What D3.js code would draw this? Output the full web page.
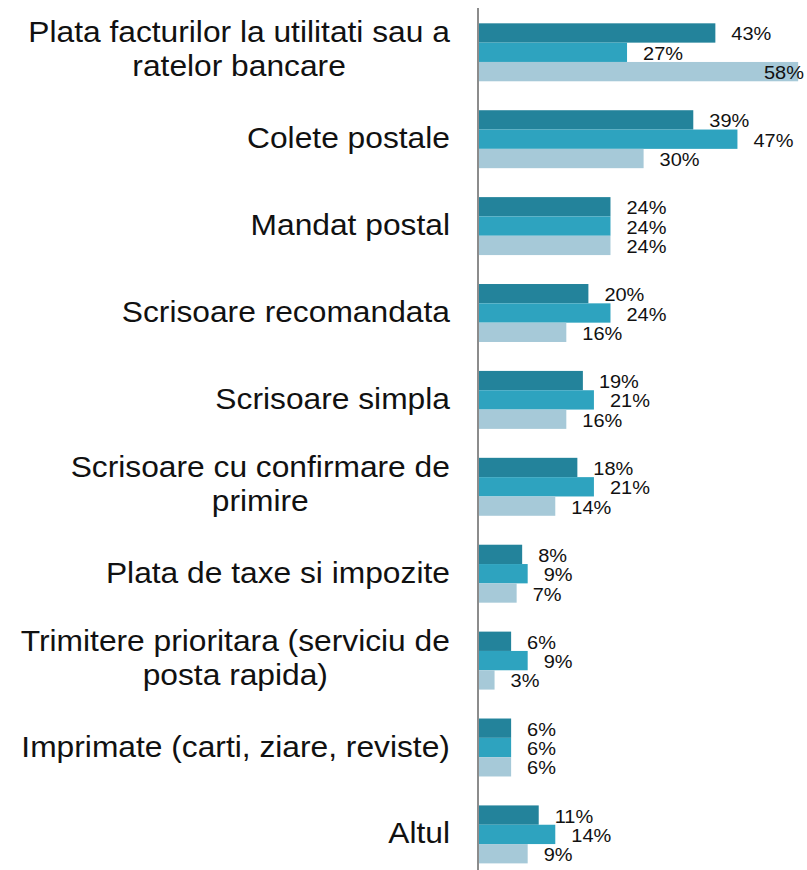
<!DOCTYPE html>
<html>
<head>
<meta charset="utf-8">
<script src="https://cdn.jsdelivr.net/npm/d3@7"></script>
<style>
  html, body { margin: 0; padding: 0; background: #fff; }
  svg { display: block; }
</style>
</head>
<body>
<div id="chart"></div>
<script>
// ---- data ----
const categories = [
  ["Plata facturilor la utilitati sau a", "ratelor bancare"],
  ["Colete postale"],
  ["Mandat postal"],
  ["Scrisoare recomandata"],
  ["Scrisoare simpla"],
  ["Scrisoare cu confirmare de", "primire"],
  ["Plata de taxe si impozite"],
  ["Trimitere prioritara (serviciu de", "posta rapida)"],
  ["Imprimate (carti, ziare, reviste)"],
  ["Altul"]
];
const series1 = [43, 39, 24, 20, 19, 18, 8, 6, 6, 11];
const series2 = [27, 47, 24, 24, 21, 21, 9, 9, 6, 14];
const series3 = [58, 30, 24, 16, 16, 14, 7, 3, 6, 9];
const seriesNames = ["s1", "s2", "s3"];
const seriesColors = ["#23839B", "#2EA3BF", "#A6C9D8"];

// ---- layout ----
const W = 807, H = 870;
const axisX = 478;
const svg = d3.select("#chart").append("svg").attr("width", W).attr("height", H);

const idx = categories.map((d, i) => i);
const y = d3.scaleBand().domain(idx).range([8.85, 877.85]).paddingInner(0.333).paddingOuter(0.1665);
const ySub = d3.scaleBand().domain(seriesNames).range([0, y.bandwidth()]);
const x = d3.scaleLinear().domain([0, 100]).range([axisX, axisX + 552]);

const allSeries = [series1, series2, series3];
const fmt = d => d + "%";
const FONT = "'Liberation Sans', Arial, sans-serif";

// bars
idx.forEach(i => {
  const g = svg.append("g").attr("transform", `translate(0,${y(i)})`);
  allSeries.forEach((s, k) => {
    g.append("rect")
      .attr("x", x(0))
      .attr("y", ySub(seriesNames[k]))
      .attr("width", x(s[i]) - x(0))
      .attr("height", ySub.bandwidth())
      .attr("fill", seriesColors[k]);
  });
});

// axis line
svg.append("line")
  .attr("x1", axisX).attr("x2", axisX)
  .attr("y1", 8).attr("y2", H)
  .attr("stroke", "#8c8c8c").attr("stroke-width", 2);

// value labels
const valSX = 1.08;
idx.forEach(i => {
  allSeries.forEach((s, k) => {
    const cy = y(i) + ySub(seriesNames[k]) + ySub.bandwidth() / 2;
    const g = svg.append("g");
    const t = g.append("text")
      .attr("font-family", FONT)
      .attr("font-size", 18.5)
      .attr("fill", "#111")
      .text(fmt(s[i]));
    const w = t.node().getComputedTextLength() * valSX;
    let lx = x(s[i]) + 16;
    if (lx + w > W - 3) lx = W - 3 - w;
    g.attr("transform", `translate(${lx},${cy + 7.5}) scale(${valSX},1)`);
  });
});

// category labels
const catSX = 1.095;
const fs = 29;
const lineH = 34;
const rightX = 450;
idx.forEach(i => {
  const lines = categories[i];
  const cy = y(i) + y.bandwidth() / 2;
  const g = svg.append("g");
  const texts = lines.map((ln, j) => g.append("text")
    .attr("font-family", FONT)
    .attr("font-size", fs)
    .attr("fill", "#111")
    .attr("text-anchor", "middle")
    .attr("y", (j - (lines.length - 1) / 2) * lineH + 9)
    .text(ln));
  const maxW = d3.max(texts, t => t.node().getComputedTextLength()) * catSX;
  const centerX = rightX - maxW / 2;
  g.attr("transform", `translate(${centerX},${cy - (lines.length > 1 ? 2 : 0)}) scale(${catSX},1)`);
});
</script>
</body>
</html>
